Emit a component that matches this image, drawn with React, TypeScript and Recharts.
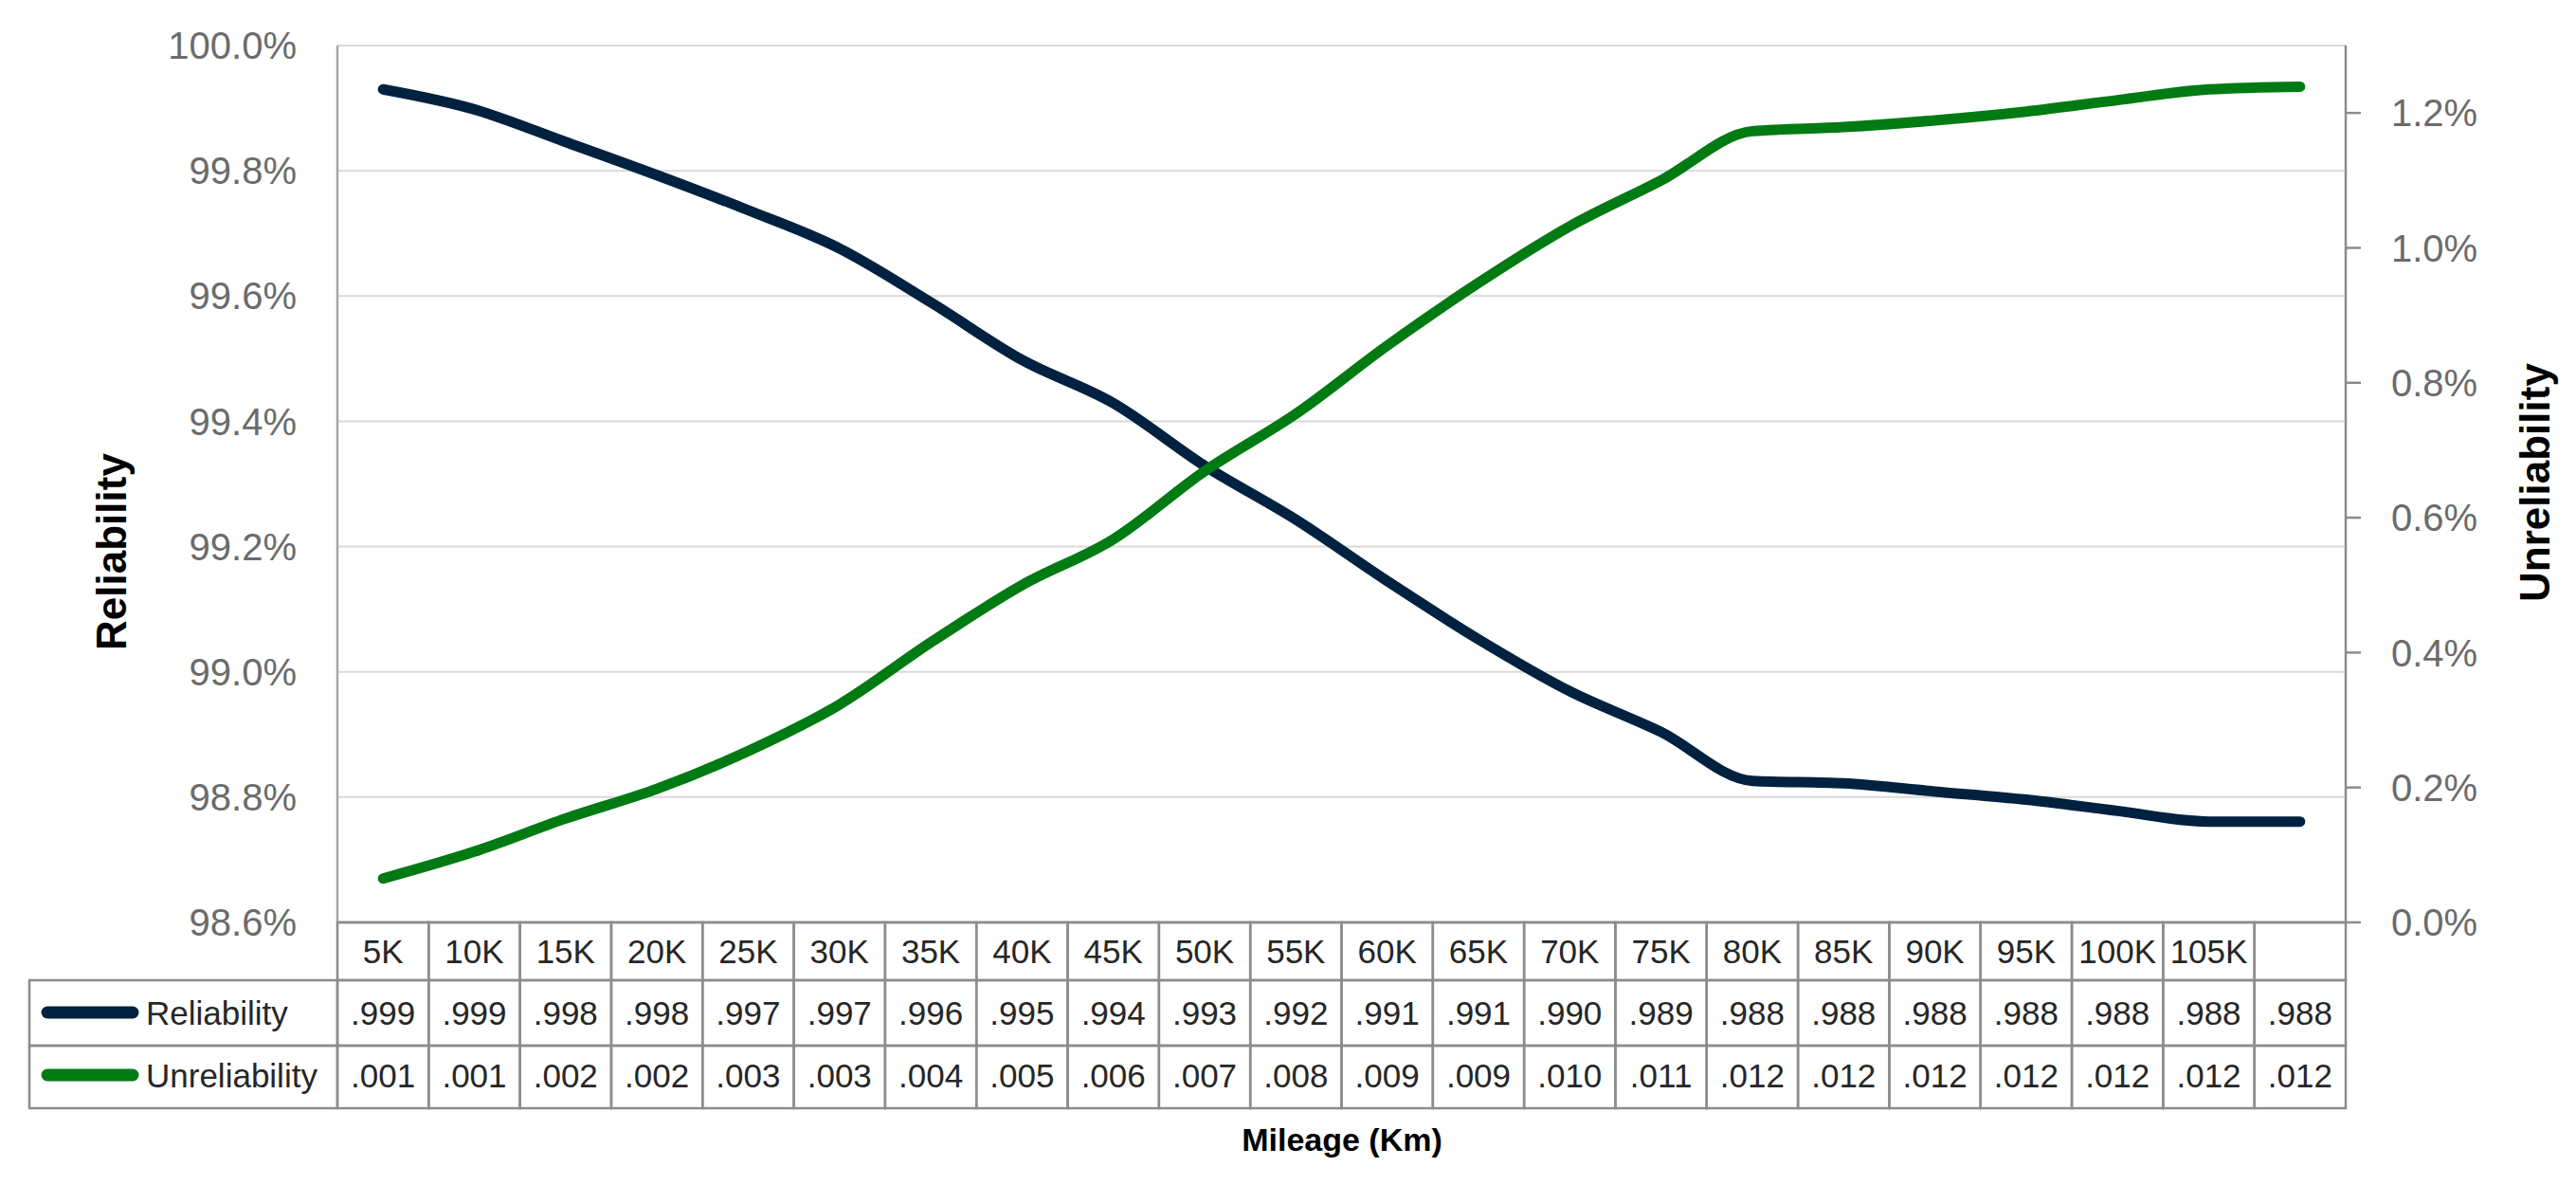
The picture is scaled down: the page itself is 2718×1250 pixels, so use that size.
import React from "react";
import { ComposedChart, Line, XAxis, YAxis, CartesianGrid, Label } from "recharts";

// mileage categories (last column has no label in the source)
const mileage = ["5K", "10K", "15K", "20K", "25K", "30K", "35K", "40K", "45K", "50K", "55K", "60K", "65K", "70K", "75K", "80K", "85K", "90K", "95K", "100K", "105K", ""];

const reliability = [
  0.9993, 0.99898, 0.99846, 0.99793, 0.99737, 0.99676, 0.9959, 0.99498, 0.99429, 0.99329, 0.99243,
  0.99145, 0.99052, 0.98969, 0.98904, 0.98826, 0.98822, 0.98809, 0.98796, 0.98778, 0.98761, 0.98761,
];

const unreliability = [
  0.00065, 0.00105, 0.00154, 0.00198, 0.00254, 0.00323, 0.00415, 0.005, 0.00568, 0.00669, 0.00754,
  0.00855, 0.00948, 0.01032, 0.011, 0.01173, 0.01179, 0.01189, 0.01202, 0.01219, 0.01235, 0.01239,
];

const leftTicks = [0.986, 0.988, 0.99, 0.992, 0.994, 0.996, 0.998, 1.0];
const rightTicks = [0, 0.002, 0.004, 0.006, 0.008, 0.01, 0.012];

const CHART_W = 2702;
const CHART_H = 1234;
const PLOT_LEFT = 348;
const PLOT_RIGHT = 2467;
const CELL_W = (PLOT_RIGHT - PLOT_LEFT) / mileage.length;

const NAVY = "#00213f";
const GREEN = "#007a12";
const BORDER = "#8c8c8c";
const FONT = "'Liberation Sans', Arial, sans-serif";
const TEXT = "#262626";

const fmtTable = (v: number) => v.toFixed(3).replace(/^0/, "");
const pct = (v: number) => (v * 100).toFixed(1) + "%";

// row offsets below the x axis line
const HEAD_H = 61;
const ROW1_H = 69;
const ROW2_H = 66;

function TableTick(props: any) {
  const { x, y, payload } = props;
  const i = props.index ?? payload.index;
  const left = x - CELL_W / 2;
  const r1 = y + HEAD_H;
  const r2 = r1 + ROW1_H;
  const bottom = r2 + ROW2_H;
  const cellStyle = { fill: "none", stroke: BORDER, strokeWidth: 2.5 };
  const txt = { fontFamily: FONT, fontSize: 35, fill: TEXT, textAnchor: "middle" as const, dominantBaseline: "central" as const };

  const legendLeft = 23;
  return (
    <g>
      <rect x={left} y={y} width={CELL_W} height={HEAD_H} {...cellStyle} />
      <rect x={left} y={r1} width={CELL_W} height={ROW1_H} {...cellStyle} />
      <rect x={left} y={r2} width={CELL_W} height={ROW2_H} {...cellStyle} />
      <text x={x} y={y + 30} {...txt}>{payload.value}</text>
      <text x={x} y={r1 + 34} {...txt}>{fmtTable(reliability[i])}</text>
      <text x={x} y={r2 + 31} {...txt}>{fmtTable(unreliability[i])}</text>
      {i === 0 && (
        <g>
          <rect x={legendLeft} y={r1} width={PLOT_LEFT - legendLeft} height={ROW1_H} {...cellStyle} />
          <rect x={legendLeft} y={r2} width={PLOT_LEFT - legendLeft} height={ROW2_H} {...cellStyle} />
          <line x1={42} x2={132} y1={r1 + 34} y2={r1 + 34} stroke={NAVY} strokeWidth={13} strokeLinecap="round" />
          <line x1={42} x2={132} y1={r2 + 31} y2={r2 + 31} stroke={GREEN} strokeWidth={13} strokeLinecap="round" />
          <text x={146} y={r1 + 34} {...txt} textAnchor="start">Reliability</text>
          <text x={146} y={r2 + 31} {...txt} textAnchor="start">Unreliability</text>
        </g>
      )}
      {bottom ? null : null}
    </g>
  );
}

export default function App() {
  const data = mileage.map((km, i) => ({ km, reliability: reliability[i], unreliability: unreliability[i] }));
  const tickStyle = { fontFamily: FONT, fontSize: 40, fill: "#6b6b6b" };
  const titleStyle = { fontFamily: FONT, fontSize: 44, fontWeight: 700, fill: "#000" };

  return (
    <div style={{ width: CHART_W, height: CHART_H, background: "#fff" }}>
      <ComposedChart
        width={CHART_W}
        height={CHART_H}
        data={data}
        margin={{ top: 40, right: 35, bottom: 29, left: 228 }}
      >
        <CartesianGrid yAxisId="left" vertical={false} stroke="#d9d9d9" strokeWidth={2} />
        <XAxis
          dataKey="km"
          interval={0}
          padding={{ left: CELL_W / 2, right: CELL_W / 2 }}
          height={240}
          tickSize={0}
          tickMargin={0}
          tickLine={false}
          axisLine={{ stroke: BORDER, strokeWidth: 2.5 }}
          tick={(p: any) => <TableTick {...p} />}
        >
          <Label
            content={() => (
              <text x={1408} y={1194} textAnchor="middle" dominantBaseline="central" style={{ ...titleStyle, fontSize: 34 }}>
                Mileage (Km)
              </text>
            )}
          />
        </XAxis>
        <YAxis
          yAxisId="left"
          width={120}
          domain={[0.986, 1]}
          ticks={leftTicks}
          tickFormatter={pct}
          tickSize={0}
          tickMargin={43}
          tickLine={false}
          axisLine={{ stroke: "#a6a6a6", strokeWidth: 2.5 }}
          tick={tickStyle}
        >
          <Label
            content={() => (
              <text x={109} y={574} textAnchor="middle" dominantBaseline="central" transform="rotate(-90 109 574)" style={titleStyle}>
                Reliability
              </text>
            )}
          />
        </YAxis>
        <YAxis
          yAxisId="right"
          orientation="right"
          width={200}
          domain={[0, 0.013]}
          ticks={rightTicks}
          tickFormatter={pct}
          tickSize={16}
          tickMargin={32}
          tickLine={{ stroke: "#8c8c8c", strokeWidth: 2.5 }}
          axisLine={{ stroke: "#8c8c8c", strokeWidth: 2.5 }}
          tick={tickStyle}
        >
          <Label
            content={() => (
              <text x={2666} y={501} textAnchor="middle" dominantBaseline="central" transform="rotate(-90 2666 501)" style={titleStyle}>
                Unreliability
              </text>
            )}
          />
        </YAxis>
        <Line
          yAxisId="left"
          type="monotone"
          dataKey="reliability"
          stroke={NAVY}
          strokeWidth={11}
          strokeLinecap="round"
          strokeLinejoin="round"
          dot={false}
          activeDot={false}
          isAnimationActive={false}
        />
        <Line
          yAxisId="right"
          type="monotone"
          dataKey="unreliability"
          stroke={GREEN}
          strokeWidth={11}
          strokeLinecap="round"
          strokeLinejoin="round"
          dot={false}
          activeDot={false}
          isAnimationActive={false}
        />
      </ComposedChart>
    </div>
  );
}
